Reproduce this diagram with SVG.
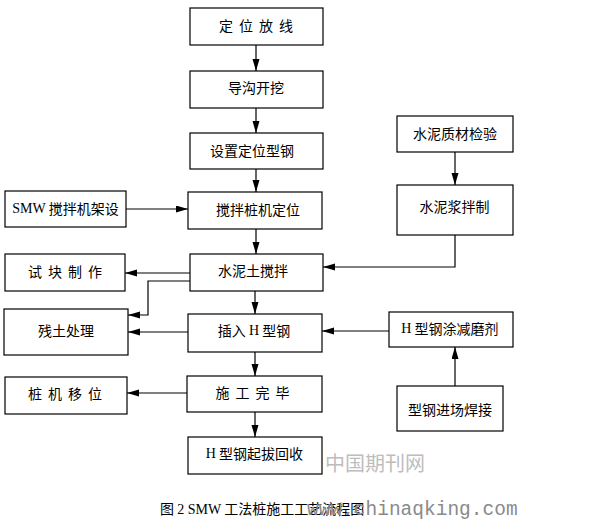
<svg xmlns="http://www.w3.org/2000/svg" width="595" height="521" viewBox="0 0 595 521">
<style>
.box{fill:#fff;stroke:#000;stroke-width:1.2}
.t{font-family:"Noto Sans CJK SC","Noto Sans",sans-serif;font-size:14px;fill:#000;text-anchor:middle;dominant-baseline:central}
.sp{letter-spacing:6px}
.r{font-family:"Liberation Serif",serif}
.ln{fill:none;stroke:#000;stroke-width:1.2}
</style>
<defs>
<marker id="ah" markerUnits="userSpaceOnUse" markerWidth="13" markerHeight="8" refX="12" refY="3.5" orient="auto">
<path d="M0,0 L12,3.5 L0,7 Z" fill="#000"/>
</marker>
</defs>
<rect width="595" height="521" fill="#fff"/>
<g id="connectors">
<line class="ln" x1="256" y1="45" x2="256" y2="71" marker-end="url(#ah)"/>
<line class="ln" x1="256" y1="108" x2="256" y2="133" marker-end="url(#ah)"/>
<line class="ln" x1="256" y1="169" x2="256" y2="192" marker-end="url(#ah)"/>
<line class="ln" x1="455" y1="152" x2="455" y2="185" marker-end="url(#ah)"/>
<line class="ln" x1="126" y1="209" x2="188" y2="209" marker-end="url(#ah)"/>
<line class="ln" x1="256" y1="229" x2="256" y2="254" marker-end="url(#ah)"/>
<polyline class="ln" points="455,235 455,267 323,267" marker-end="url(#ah)"/>
<line class="ln" x1="190" y1="273" x2="125" y2="273" marker-end="url(#ah)"/>
<polyline class="ln" points="190,281 148,281 148,315 128,315" marker-end="url(#ah)"/>
<line class="ln" x1="255" y1="291" x2="255" y2="314" marker-end="url(#ah)"/>
<line class="ln" x1="188" y1="332" x2="128" y2="332" marker-end="url(#ah)"/>
<line class="ln" x1="389" y1="331" x2="322" y2="331" marker-end="url(#ah)"/>
<line class="ln" x1="455" y1="386" x2="455" y2="347" marker-end="url(#ah)"/>
<line class="ln" x1="255" y1="352" x2="255" y2="376" marker-end="url(#ah)"/>
<line class="ln" x1="187" y1="393" x2="127" y2="393" marker-end="url(#ah)"/>
<line class="ln" x1="255" y1="412" x2="255" y2="437" marker-end="url(#ah)"/>
</g>
<g id="n1"><rect class="box" x="190" y="8" width="133" height="37"/><text class="t sp" x="259" y="25">定位放线</text></g>
<g id="n2"><rect class="box" x="190" y="71" width="133" height="37"/><text class="t" x="256" y="87">导沟开挖</text></g>
<g id="n3"><rect class="box" x="190" y="133" width="133" height="36"/><text class="t" x="252" y="150">设置定位型钢</text></g>
<g id="n4"><rect class="box" x="397" y="116" width="116" height="36"/><text class="t" x="455" y="133">水泥质材检验</text></g>
<g id="n5"><rect class="box" x="5" y="191" width="121" height="36"/><text class="t" x="65.5" y="208"><tspan class="r">SMW</tspan> 搅拌机架设</text></g>
<g id="n6"><rect class="box" x="188" y="192" width="134" height="37"/><text class="t" x="258" y="208.5">搅拌桩机定位</text></g>
<g id="n7"><rect class="box" x="397" y="185" width="116" height="50"/><text class="t" x="454.5" y="205.5">水泥浆拌制</text></g>
<g id="n8"><rect class="box" x="5" y="254" width="120" height="37"/><text class="t sp" x="68" y="271">试块制作</text></g>
<g id="n9"><rect class="box" x="190" y="254" width="133" height="37"/><text class="t" x="253" y="270">水泥土搅拌</text></g>
<g id="n10"><rect class="box" x="4" y="309" width="124" height="46"/><text class="t" x="66" y="330">残土处理</text></g>
<g id="n11"><rect class="box" x="188" y="314" width="134" height="38"/><text class="t" x="254" y="330">插入 <tspan class="r">H</tspan> 型钢</text></g>
<g id="n12"><rect class="box" x="389" y="312" width="124" height="35"/><text class="t" x="450" y="327.5"><tspan class="r">H</tspan> 型钢涂减磨剂</text></g>
<g id="n13"><rect class="box" x="5" y="377" width="122" height="37"/><text class="t sp" x="68" y="393">桩机移位</text></g>
<g id="n14"><rect class="box" x="187" y="376" width="135" height="36"/><text class="t sp" x="255.5" y="392">施工完毕</text></g>
<g id="n15"><rect class="box" x="397" y="386" width="106" height="45"/><text class="t" x="450" y="409">型钢进场焊接</text></g>
<g id="n16"><rect class="box" x="188" y="437" width="134" height="37"/><text class="t" x="254.5" y="453"><tspan class="r">H</tspan> 型钢起拔回收</text></g>
<text x="325" y="471" style="font-family:'Noto Sans CJK SC',sans-serif;font-size:20px;fill:#bdbdbd">中国期刊网</text>
<text x="160" y="514" style="font-family:'Noto Sans CJK SC',sans-serif;font-size:14px;fill:#000">图 <tspan class="r">2 SMW</tspan> 工法桩施工工艺流程图</text>
<text x="307" y="515" style="font-family:'Liberation Mono',monospace;font-size:19.5px;fill:#8a8a8a">www.chinaqking.com</text>
</svg>
